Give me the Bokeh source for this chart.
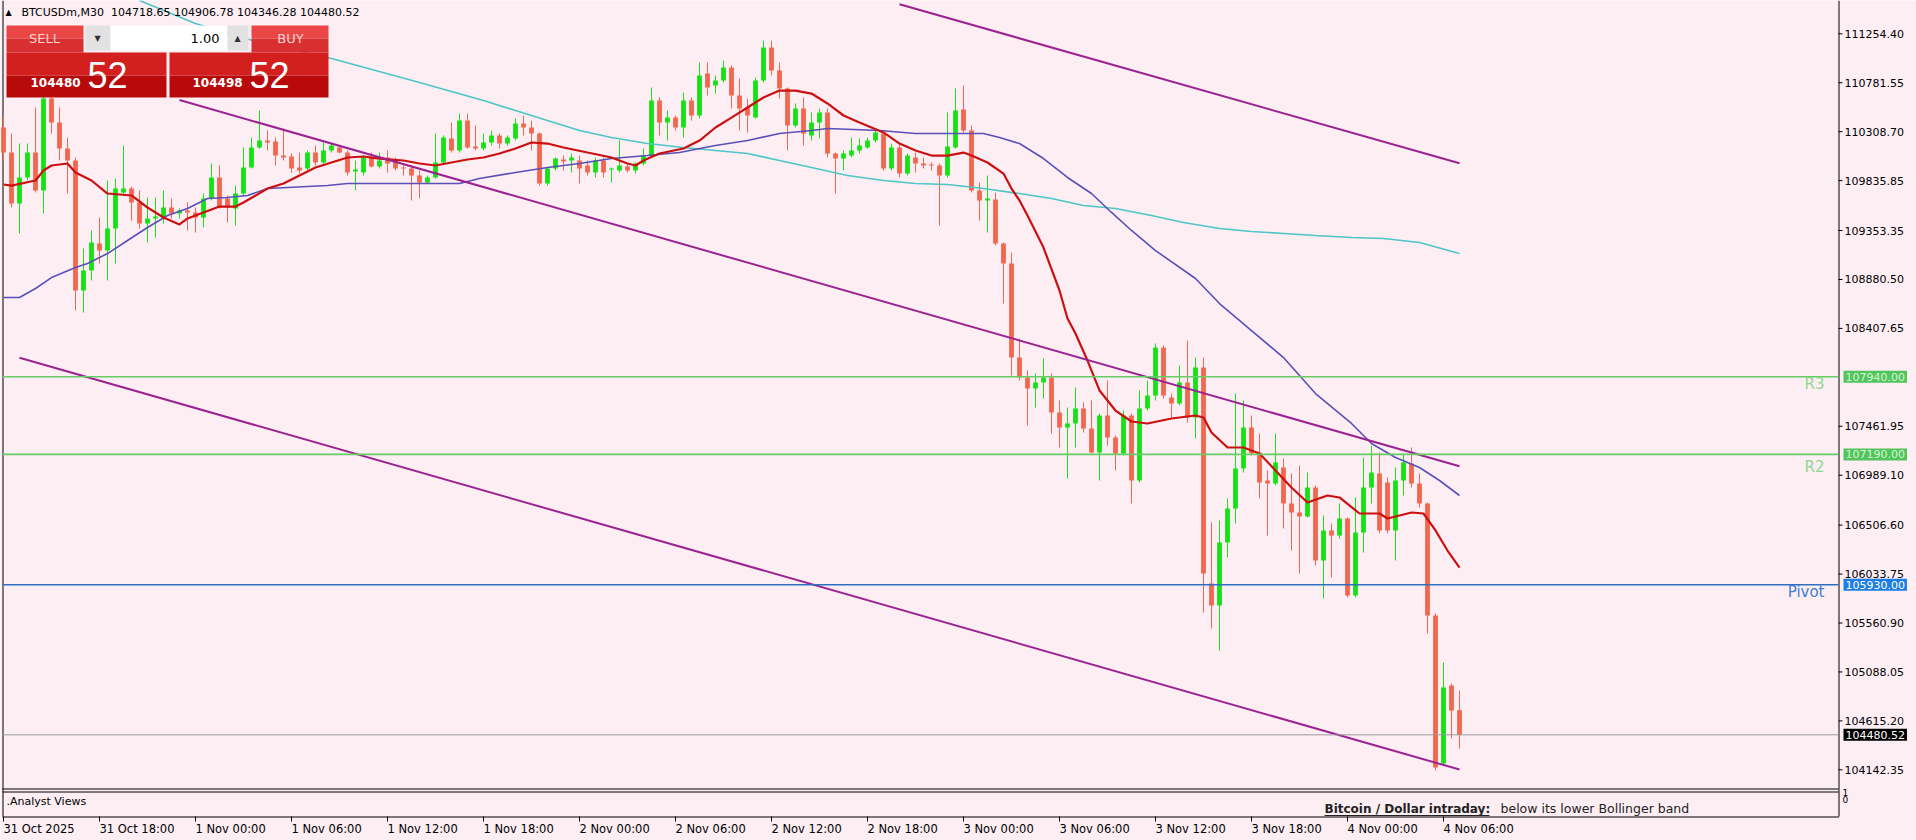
from bokeh.plotting import figure
from bokeh.models import Label, BoxAnnotation, ColumnDataSource
from bokeh.core.properties import value
from bokeh.embed import file_html
from bokeh.resources import INLINE

# ---------------- data (BTCUSDm, M30, bar 0 = 31 Oct 2025 12:00) ----------------
opens = [110349,110107,109615,109866,110107,109740,110629,110397,110146,110030,
         108774,108967,109228,109160,109373,109721,109759,109624,109421,109470,
         109489,109576,109518,109547,109528,109479,109663,109866,109663,109566,
         109711,109962,110156,110223,110214,110078,110069,109962,109953,110107,
         110011,110127,110156,110107,109924,109914,110059,109972,110059,110030,
         109962,109953,109885,109817,109866,110011,110243,110127,110416,110165,
         110146,110204,110272,110194,110243,110388,110349,110291,109808,109953,
         110040,110030,110030,109982,109914,110030,109943,109933,109972,109933,
         110001,110078,110610,110397,110445,110349,110610,110465,110871,110755,
         110803,110929,110658,110542,110445,110803,111122,110900,110726,110368,
         110532,110272,110397,110494,110098,110049,110078,110127,110156,110223,
         110291,109953,110156,109904,110059,110001,109991,109982,109885,110156,
         110523,110320,109740,109644,109653,109228,109035,108126,107933,107827,
         107885,107933,107595,107450,107489,107634,107440,107208,107566,107353,
         107199,107566,106938,107634,107759,108223,107740,107682,107885,107547,
         108030,105943,105730,106339,106667,107054,107450,107208,106938,106909,
         107064,106716,106629,106590,106870,106165,106455,106406,106571,105827,
         106435,106870,107006,106919,106455,106938,107102,106909,106716,105633,
         104203,104957,104718.65]
highs = [110465,110291,110194,110194,110542,110706,110687,110542,110252,110059,
         109180,109354,109479,109837,109856,110175,109779,109740,109672,109672,
         109740,109663,109566,109624,109576,109711,110001,109982,109692,109788,
         110156,110252,110513,110320,110252,110339,110098,110107,110127,110175,
         110204,110194,110175,110127,110030,110078,110107,110107,110127,110059,
         109982,109982,109933,109885,110291,110272,110397,110484,110484,110368,
         110291,110320,110291,110272,110436,110465,110416,110301,109962,110059,
         110078,110098,110078,110030,110059,110059,109962,110223,110001,110011,
         110146,110735,110639,110513,110465,110687,110639,110977,110977,110851,
         110996,110948,110822,110629,110832,111190,111190,110977,110735,110581,
         110639,110494,110532,110532,110107,110127,110252,110243,110252,110339,
         110301,110194,110194,110098,110107,110059,110011,110001,110494,110726,
         110755,110368,109817,109885,109721,109238,109141,108310,108001,107972,
         108117,107972,107711,107643,107837,107692,107711,107585,107904,107373,
         107614,107585,107808,107904,108262,108242,107779,108049,108291,108126,
         108126,106532,106551,106764,107779,107711,107566,107392,107035,107392,
         107150,107006,107083,107015,106890,106600,106522,106716,106580,106774,
         107160,107276,107208,106967,107064,107199,107257,107006,106725,105653,
         105179,104976,104906.78]
lows = [110030,109576,109325,109837,109721,109518,110291,110030,109711,108581,
        108561,108871,109035,108871,109035,109692,109450,109373,109238,109286,
        109421,109470,109470,109354,109334,109383,109644,109566,109431,109402,
        109692,109953,110146,110127,109982,110030,109914,109904,109933,109982,
        110001,110107,110098,109885,109740,109885,109962,109953,109914,109933,
        109885,109644,109663,109808,109856,110001,110107,110107,110146,110127,
        110127,110175,110146,110175,110223,110272,110127,109788,109788,109933,
        109933,109914,109808,109885,109866,109866,109817,109914,109914,109904,
        109982,110059,110272,110223,110320,110252,110416,110436,110658,110677,
        110784,110532,110320,110301,110436,110784,110851,110629,110127,110349,
        110175,110223,110243,110059,109711,109933,110059,110098,110146,110204,
        109933,109933,109866,109885,109914,109953,109933,109402,109866,110146,
        110301,109721,109450,109334,109209,108648,107953,107904,107469,107643,
        107730,107392,107257,106957,107257,107402,107199,106938,107276,107035,
        107180,106716,106919,107614,107711,107730,107547,107663,107498,107344,
        105662,105508,105295,106194,106522,107015,107180,106764,106406,106890,
        106474,106261,106039,106580,106116,105798,106001,106377,105807,105807,
        106242,106716,106426,106426,106165,106793,106870,106677,105459,104136,
        104184,104445,104346.28]
closes = [110107,109615,109866,110107,109740,110629,110397,110146,110030,108774,
          108967,109238,109160,109373,109759,109759,109624,109421,109470,109489,
          109576,109518,109547,109528,109479,109663,109866,109576,109576,109711,
          109962,110156,110223,110204,110078,110059,109953,109933,110107,110011,
          110127,110175,110107,109914,109943,110059,109972,110030,110001,109953,
          109953,109885,109817,109866,110011,110252,110127,110416,110156,110146,
          110204,110272,110194,110252,110388,110349,110291,109808,109953,110049,
          110020,110059,109953,109914,110030,109914,109953,109982,109933,110001,
          110078,110610,110397,110445,110349,110610,110465,110851,110735,110803,
          110929,110658,110532,110465,110803,111122,110900,110726,110368,110532,
          110291,110397,110494,110098,110049,110098,110127,110175,110223,110301,
          109953,110156,109904,110078,110001,109982,109982,109885,110165,110513,
          110320,109740,109644,109663,109228,109035,108126,107933,107827,107885,
          107933,107595,107450,107489,107634,107440,107208,107566,107353,107199,
          107566,106938,107634,107759,108223,107759,107682,107885,107547,108030,
          106039,105730,106339,106667,107054,107450,107199,106919,106909,107112,
          106716,106629,106590,106870,106165,106455,106406,106571,105827,106435,
          106870,107015,106455,106455,106938,107112,106909,106716,105633,104165,
          104938,104715,104480.52]
bars = list(range(len(opens)))

# moving averages (bar index, price)
red_ma_bar = [0,1,4,5,6,8,9,11,13,16,18,20,22,23,25,27,29,30,33,35,37,39,41,43,45,47,50,52,54,56,
              58,60,62,64,66,68,70,73,76,78,79,80,82,85,87,89,91,93,95,97,99,101,103,105,107,110,
              112,114,116,118,120,121,123,125,126,127,128,130,132,133,134,135.5,137,139,141,143,
              146,149,150,151,153,155,157,159,161,163,165.5,167,169.5,172,173,174.5,176,177.5,
              179,180.5,182]
red_ma_val = [109798,109788,109837,109933,109982,110001,109914,109837,109711,109692,109576,109479,
              109412,109470,109528,109585,109585,109624,109759,109808,109885,109962,110011,110059,
              110069,110049,110030,110001,109982,110011,110040,110059,110098,110146,110204,110194,
              110156,110107,110059,110001,109982,110030,110098,110146,110223,110349,110445,110542,
              110639,110706,110706,110677,110581,110465,110397,110301,110194,110127,110078,110078,
              110107,110078,110011,109904,109759,109644,109499,109189,108774,108503,108358,108097,
              107808,107614,107508,107489,107537,107566,107547,107402,107257,107257,107199,107035,
              106870,106725,106793,106774,106619,106619,106571,106600,106629,106619,106455,106261,
              106097]
blue_ma_bar = [0,2,4,6,9,10.5,13,15.5,18,20.5,23,25.5,28,30.5,33,35.5,38,40.5,43,45.5,49.5,54,57,
               59.5,64,68,72,76,80.5,84.5,89,93,97,101,103,109.5,114,118,122.5,124.5,127,130,133,
               136,138.5,141,144,149,152,156,160,164,168.5,171,174,177,179.5,182]
blue_ma_val = [108706,108706,108793,108899,108996,109035,109131,109257,109383,109499,109566,109663,
               109672,109692,109759,109769,109779,109788,109808,109808,109808,109808,109808,109856,
               109914,109962,110001,110049,110078,110107,110175,110223,110291,110320,110339,110320,
               110291,110291,110291,110252,110194,110049,109866,109711,109528,109354,109160,108890,
               108648,108387,108126,107778,107489,107295,107160,107064,106938,106793]
teal_ma_bar = [17,24,32,41,52,60,64,68,72,76,80.5,85,89,93,97,101,105.5,110,114,118,122.5,127,131,
               135,139,143.5,147.5,152,156,160,164,168.5,172.5,177,182]
teal_ma_val = [111576,111354,111170,111016,110784,110610,110513,110416,110320,110252,110194,110156,
               110127,110098,110030,109962,109885,109837,109808,109798,109759,109711,109663,109595,
               109566,109499,109431,109373,109344,109325,109305,109286,109276,109238,109131]

# channel trend lines (bar, price)
chan_x0 = [112, 22, 2]
chan_y0 = [111540, 110614, 108124]
chan_x1 = [182, 182, 182]
chan_y1 = [110003, 107075, 104145]

# pivot levels
level_names = ["R3", "R2", "Pivot"]
level_values = [107940.00, 107190.00, 105930.00]

price_ticks = [111254.40, 110781.55, 110308.70, 109835.85, 109353.35, 108880.50, 108407.65,
               107461.95, 106989.10, 106506.60, 106033.75, 105560.90, 105088.05, 104615.20,
               104142.35]
time_tick_bars = [0, 12, 24, 36, 48, 60, 72, 84, 96, 108, 120, 132, 144, 156, 168, 180]
time_tick_labels = ["31 Oct 2025", "31 Oct 18:00", "1 Nov 00:00", "1 Nov 06:00", "1 Nov 12:00",
                    "1 Nov 18:00", "2 Nov 00:00", "2 Nov 06:00", "2 Nov 12:00", "2 Nov 18:00",
                    "3 Nov 00:00", "3 Nov 06:00", "3 Nov 12:00", "3 Nov 18:00", "4 Nov 00:00",
                    "4 Nov 06:00"]

# ---------------- layout helpers (page pixel -> data) ----------------
PX0, PXB = 3.0, 8.0            # page x of bar 0, pixels per bar
PY_REF, PPX = 111576.2, 9.663  # price at page y=0, price per pixel

def DX(px):
    return (px - PX0) / PXB

def DY(py):
    return PY_REF - PPX * py

BG = "#fdeef4"
BULL = "#16e016"
BEAR = "#f2674f"
FONT = "DejaVu Sans"

W, H = 1916, 840
FL, FR, FB = 2, 1838, 816      # chart window edges (page px)

p = figure(width=W, height=H, x_range=(DX(0), DX(W)), y_range=(DY(H), DY(0)),
           x_axis_location=None, y_axis_location=None, output_backend="svg", toolbar_location=None,
           min_border=0, background_fill_color=BG, border_fill_color=BG, outline_line_color=None)
p.xgrid.visible = False
p.ygrid.visible = False

# ---------------- price scale (right) and time scale (bottom) ----------------
n = len(price_ticks)
p.segment(x0=[DX(FR + 0.5)], y0=[DY(0)], x1=[DX(FR + 0.5)], y1=[DY(FB)], line_color="black", line_width=1)
p.segment(x0=[DX(FR)] * n, y0=price_ticks, x1=[DX(FR + 4)] * n, y1=price_ticks, line_color="black", line_width=1)
p.text(x=[DX(FR + 6)] * n, y=price_ticks, text=["%.2f" % v for v in price_ticks],
       text_align="left", text_baseline="middle", text_font=value(FONT), text_font_size=value("11px"),
       text_color="black")

m = len(time_tick_bars)
p.segment(x0=[DX(FL)], y0=[DY(FB + 0.5)], x1=[DX(FR + 0.5)], y1=[DY(FB + 0.5)], line_color="black", line_width=1)
p.segment(x0=time_tick_bars, y0=[DY(FB)] * m, x1=time_tick_bars, y1=[DY(FB + 5)] * m,
          line_color="black", line_width=1)
p.text(x=time_tick_bars, y=[DY(828)] * m, text=time_tick_labels, text_align="left", text_baseline="middle",
       text_font=value(FONT), text_font_size=value("11.5px"), text_color="black")

# left border of the chart window
p.segment(x0=[DX(FL + 0.5)], y0=[DY(0)], x1=[DX(FL + 0.5)], y1=[DY(FB)], line_color="black", line_width=1)

# ---------------- candles ----------------
colors = [BULL if c >= o else BEAR for o, c in zip(opens, closes)]
btop, bbot = [], []
for o, c in zip(opens, closes):
    t, b = max(o, c), min(o, c)
    if t - b < 10:
        t = b + 10
    btop.append(t)
    bbot.append(b)
src = ColumnDataSource(dict(x=bars, o=opens, h=highs, l=lows, c=closes, top=btop, bot=bbot, col=colors))
p.segment(x0="x", y0="l", x1="x", y1="h", line_color="col", line_width=1, source=src)
p.vbar(x="x", width=0.6, top="top", bottom="bot", fill_color="col", line_color=None, source=src)

# moving averages
p.line(teal_ma_bar, teal_ma_val, line_color="#4cc6c6", line_width=1.6)
p.line(blue_ma_bar, blue_ma_val, line_color="#5a50b8", line_width=1.6)
p.line(red_ma_bar, red_ma_val, line_color="#cc1010", line_width=2.2)

# channel
p.segment(x0=chan_x0, y0=chan_y0, x1=chan_x1, y1=chan_y1, line_color="#9b2391", line_width=2)

# horizontal levels (chart window width only)
lvl_cols = ["#66cc66", "#66cc66", "#2e6fc0"]
k = len(level_values)
p.segment(x0=[DX(FL)] * k, y0=level_values, x1=[DX(FR)] * k, y1=level_values,
          line_color=lvl_cols, line_width=1.6)
p.segment(x0=[DX(FL)], y0=[closes[-1]], x1=[DX(FR)], y1=[closes[-1]], line_color="#9a9a9a", line_width=1)

# main panel / sub-window separators
p.segment(x0=[DX(FL)] * 2, y0=[DY(788.5), DY(791.5)], x1=[DX(FR)] * 2, y1=[DY(788.5), DY(791.5)],
          line_color="black", line_width=1)

# level labels in chart
txt_cols = ["#8fd88f", "#8fd88f", "#3f7fcf"]
txt_y = [383, 466, 591]
for name, col, ty in zip(level_names, txt_cols, txt_y):
    p.add_layout(Label(x=DX(1824), y=DY(ty), text=name, text_align="right", text_baseline="middle",
                       text_font=FONT, text_font_size="15px", text_color=col))

# axis price tags
tag_bg = ["#52c45c", "#52c45c", "#1e7ee6"]
tag_fg = ["#d5f7d5", "#d5f7d5", "#ffffff"]
for v, bgc, fgc in zip(level_values, tag_bg, tag_fg):
    p.add_layout(Label(x=DX(FR + 5), y=v, text="%.2f" % v, text_align="left", text_baseline="middle",
                       text_font=FONT, text_font_size="11px", text_color=fgc,
                       background_fill_color=bgc, background_fill_alpha=1, padding=2))
p.add_layout(Label(x=DX(FR + 5), y=closes[-1], text="%.2f" % closes[-1], text_align="left",
                   text_baseline="middle", text_font=FONT, text_font_size="11px", text_color="white",
                   background_fill_color="black", background_fill_alpha=1, padding=2))

# sub-window scale labels
for t, py in (("1", 792), ("0", 799)):
    p.add_layout(Label(x=DX(FR + 4), y=DY(py), text=t, text_align="left", text_baseline="middle",
                       text_font=FONT, text_font_size="9px", text_color="black"))

# sub-window texts
p.add_layout(Label(x=DX(6), y=DY(801), text=".Analyst Views", text_align="left", text_baseline="middle",
                   text_font=FONT, text_font_size="11px", text_color="black"))
p.add_layout(Label(x=DX(1324), y=DY(808), text="Bitcoin / Dollar intraday:", text_align="left",
                   text_baseline="middle", text_font=FONT, text_font_size="12px",
                   text_font_style="bold", text_color="#222222"))
p.add_layout(Label(x=DX(1500), y=DY(808), text="below its lower Bollinger band", text_align="left",
                   text_baseline="middle", text_font=FONT, text_font_size="12.5px",
                   text_color="#222222"))
p.segment(x0=[DX(1324)], y0=[DY(815)], x1=[DX(1489)], y1=[DY(815)], line_color="#222222", line_width=1)

# header
p.add_layout(Label(x=DX(5), y=DY(12), text="\u25b2", text_align="left", text_baseline="middle",
                   text_font=FONT, text_font_size="8px", text_color="black"))
hdr = "BTCUSDm,M30\u00a0\u00a0%.2f %.2f %.2f %.2f" % (opens[-1], highs[-1], lows[-1], closes[-1])
p.add_layout(Label(x=DX(21), y=DY(12), text=hdr, text_align="left", text_baseline="middle",
                   text_font=FONT, text_font_size="11px", text_color="black"))

# one-click trading panel
def box(l, r, t, b, col):
    p.add_layout(BoxAnnotation(left=DX(l), right=DX(r), top=DY(t), bottom=DY(b), fill_color=col,
                               fill_alpha=1, line_color=None))

box(6, 83, 25, 38, "#ea4646"); box(6, 83, 38, 52, "#d83030")
box(251, 328, 25, 38, "#ea4646"); box(251, 328, 38, 52, "#d83030")
box(85, 110, 25, 50, "#e2e2e2"); box(110, 227, 25, 50, "#ffffff"); box(227, 248, 25, 50, "#e2e2e2")
box(6, 166, 52, 75, "#d41f1f"); box(6, 166, 75, 97, "#b80a0a")
box(169, 328, 52, 75, "#d41f1f"); box(169, 328, 75, 97, "#b80a0a")

def lab(px, py, text, size, col, align="left", style="normal", font=FONT):
    p.add_layout(Label(x=DX(px), y=DY(py), text=text, text_align=align, text_baseline="middle",
                       text_font=font, text_font_size=size, text_color=col, text_font_style=style))

lab(44, 38, "SELL", "13px", "#ffd2d2", "center")
lab(290, 38, "BUY", "13px", "#ffd2d2", "center")
lab(97, 38, "\u25bc", "8px", "#333333", "center")
lab(237, 38, "\u25b2", "8px", "#333333", "center")
lab(219, 38, "1.00", "13px", "#000000", "right")
lab(30, 82, "104480", "12px", "#ffffff", "left", "bold")
lab(87, 74, "52", "36px", "#ffffff", "left", "normal", "Liberation Sans")
lab(192, 82, "104498", "12px", "#ffffff", "left", "bold")
lab(249, 74, "52", "36px", "#ffffff", "left", "normal", "Liberation Sans")

open("out.html", "w").write(file_html(p, INLINE))
